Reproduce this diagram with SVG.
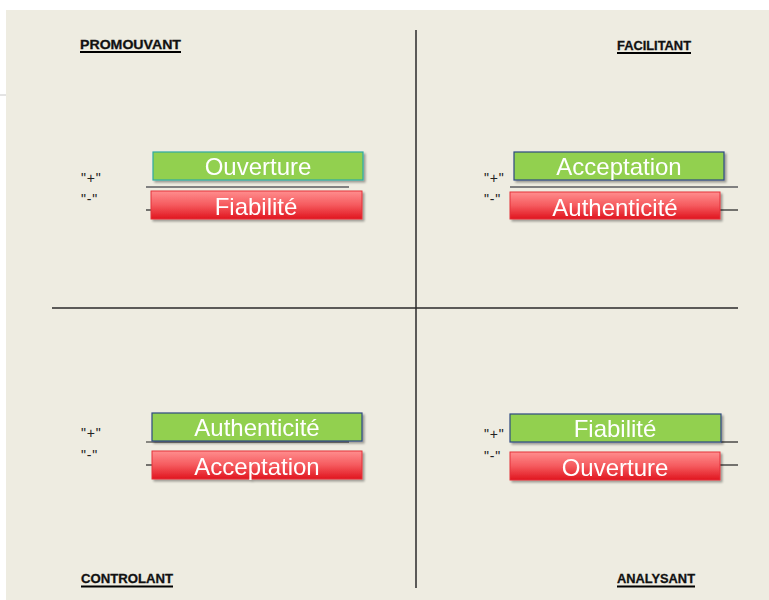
<svg xmlns="http://www.w3.org/2000/svg" width="769" height="600" viewBox="0 0 769 600">
<defs>
<linearGradient id="redg" x1="0" y1="0" x2="0" y2="1">
<stop offset="0" stop-color="#FF8E8E"/>
<stop offset="0.5" stop-color="#F55A5E"/>
<stop offset="1" stop-color="#E0141E"/>
</linearGradient>
<filter id="sh" x="-5%" y="-20%" width="110%" height="150%">
<feGaussianBlur in="SourceAlpha" stdDeviation="1.2"/>
<feOffset dx="1.5" dy="2" result="b"/>
<feComponentTransfer><feFuncA type="linear" slope="0.35"/></feComponentTransfer>
<feMerge><feMergeNode/><feMergeNode in="SourceGraphic"/></feMerge>
</filter>
</defs>
<style>
.title{font-family:"Liberation Sans",Arial,sans-serif;font-weight:bold;font-size:13px;fill:#111;stroke:#111;stroke-width:0.3;}
.ul{stroke:#000;stroke-width:2;}
.sign{font-family:"Liberation Sans",Arial,sans-serif;font-size:14px;fill:#222;letter-spacing:0.8px;}
.green{fill:#92D050;stroke-width:1.2;}
.red{fill:url(#redg);stroke:#E4303A;stroke-width:1;}
.lbl{font-family:"Liberation Sans",Arial,sans-serif;font-size:24px;fill:#FFFFFF;text-anchor:middle;}
.sep{stroke:#808080;stroke-width:2;}
.tick{stroke:#222;stroke-width:1.2;}
.axis{stroke:#2a2a2a;stroke-width:1.5;}
</style>
<rect width="769" height="600" fill="#FFFFFF"/>
<rect x="6" y="10" width="763" height="590" fill="#EEECE1"/>
<line x1="0" y1="95" x2="6" y2="95" stroke="#C8C8C8" stroke-width="1"/>

<g id="connectors">
<line class="axis" x1="416" y1="30" x2="416" y2="588"/>
<line class="axis" x1="52" y1="308" x2="738" y2="308"/>
<line class="sep" x1="146" y1="187" x2="349" y2="187"/>
<line class="tick" x1="146" y1="210" x2="151" y2="210"/>
<line class="sep" x1="510" y1="187" x2="738" y2="187"/>
<line class="tick" x1="720" y1="210" x2="738" y2="210"/>
<line class="tick" x1="146" y1="442" x2="349" y2="442"/>
<line class="tick" x1="146" y1="465" x2="152" y2="465"/>
<line class="tick" x1="721" y1="442" x2="738" y2="442"/>
<line class="tick" x1="720" y1="465" x2="738" y2="465"/>
</g>

<g id="titles">
<text class="title" x="80" y="48.5" textLength="101" lengthAdjust="spacingAndGlyphs">PROMOUVANT</text>
<line class="ul" x1="80" y1="52" x2="181" y2="52"/>
<text class="title" x="617" y="49.5" textLength="74" lengthAdjust="spacingAndGlyphs">FACILITANT</text>
<line class="ul" x1="617" y1="53" x2="691" y2="53"/>
<text class="title" x="81" y="583" textLength="92" lengthAdjust="spacingAndGlyphs">CONTROLANT</text>
<line class="ul" x1="81" y1="586.5" x2="173" y2="586.5"/>
<text class="title" x="617" y="583" textLength="78" lengthAdjust="spacingAndGlyphs">ANALYSANT</text>
<line class="ul" x1="617" y1="586.5" x2="695" y2="586.5"/>
</g>

<g id="signs">
<text class="sign" x="81" y="183">"+"</text>
<text class="sign" x="81" y="204">"-"</text>
<text class="sign" x="484" y="183">"+"</text>
<text class="sign" x="484" y="204">"-"</text>
<text class="sign" x="81" y="438">"+"</text>
<text class="sign" x="81" y="460">"-"</text>
<text class="sign" x="484" y="439">"+"</text>
<text class="sign" x="484" y="461">"-"</text>
</g>

<g id="promouvant-plus" filter="url(#sh)">
<rect class="green" x="153" y="152" width="210" height="28" stroke="#2FAAA2"/>
<text class="lbl" x="258" y="175">Ouverture</text>
</g>
<g id="promouvant-minus" filter="url(#sh)">
<rect class="red" x="151" y="191" width="211" height="28"/>
<text class="lbl" x="256" y="214.5">Fiabilité</text>
</g>

<g id="facilitant-plus" filter="url(#sh)">
<rect class="green" x="514" y="152" width="210" height="28" stroke="#2E4A80"/>
<text class="lbl" x="619" y="175">Acceptation</text>
</g>
<g id="facilitant-minus" filter="url(#sh)">
<rect class="red" x="510" y="192" width="210" height="27"/>
<text class="lbl" x="615" y="215.5">Authenticité</text>
</g>

<g id="controlant-plus" filter="url(#sh)">
<rect class="green" x="152" y="413" width="210" height="28" stroke="#2E4A80"/>
<text class="lbl" x="257" y="436">Authenticité</text>
</g>
<g id="controlant-minus" filter="url(#sh)">
<rect class="red" x="152" y="451" width="210" height="28"/>
<text class="lbl" x="257" y="474.5">Acceptation</text>
</g>

<g id="analysant-plus" filter="url(#sh)">
<rect class="green" x="510" y="414" width="211" height="28" stroke="#2E4A80"/>
<text class="lbl" x="615" y="437">Fiabilité</text>
</g>
<g id="analysant-minus" filter="url(#sh)">
<rect class="red" x="510" y="452" width="210" height="28"/>
<text class="lbl" x="615" y="475.5">Ouverture</text>
</g>
</svg>
